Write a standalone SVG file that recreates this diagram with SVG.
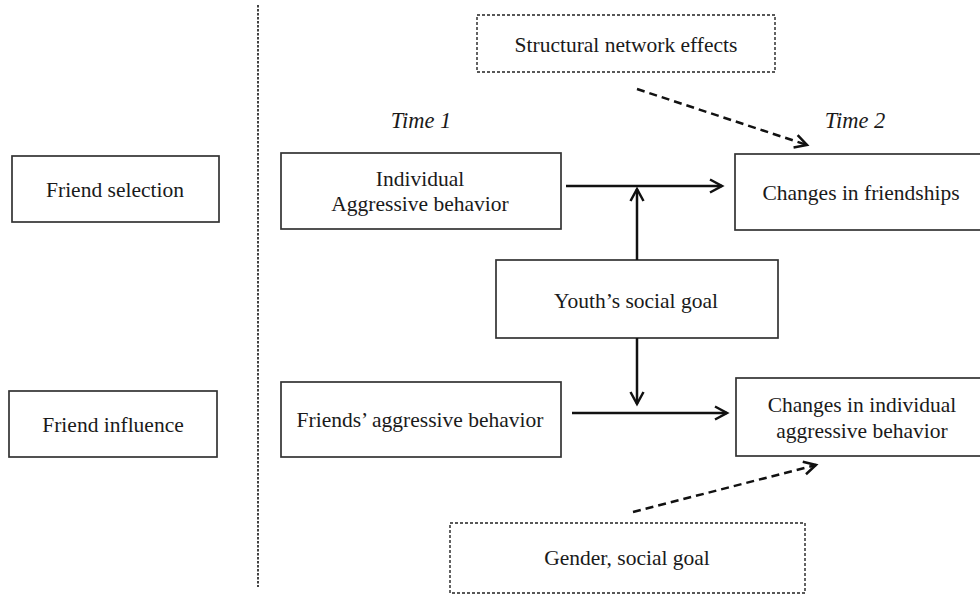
<svg xmlns="http://www.w3.org/2000/svg" width="980" height="595" viewBox="0 0 980 595">
  <defs>
    <marker id="chev" viewBox="-15 -9 18 18" refX="0" refY="0" markerWidth="18" markerHeight="18" markerUnits="userSpaceOnUse" orient="auto">
      <path d="M-12,-6.5 L0,0 L-12,6.5" fill="none" stroke="#111" stroke-width="2.5" stroke-linejoin="miter"/>
    </marker>
  </defs>
  <style>
    .box { fill: #fff; stroke: #333; stroke-width: 1.7; }
    .dbox { fill: #fff; stroke: #222; stroke-width: 1.4; stroke-dasharray: 3 2; }
    .t { font-family: "Liberation Serif", "Times New Roman", serif; font-size: 21.5px; fill: #1a1a1a; text-anchor: middle; }
    .ti { font-family: "Liberation Serif", "Times New Roman", serif; font-size: 22.5px; font-style: italic; fill: #1a1a1a; text-anchor: middle; }
    .arr { stroke: #111; stroke-width: 2.5; fill: none; marker-end: url(#chev); }
    .darr { stroke: #111; stroke-width: 2.5; fill: none; stroke-dasharray: 8 5; marker-end: url(#chev); }
  </style>
  <rect width="980" height="595" fill="#fff"/>

  <g id="divider">
    <line x1="258" y1="5" x2="258" y2="587" stroke="#222" stroke-width="1.7" stroke-dasharray="2.5 1.5"/>
  </g>

  <g id="friend-selection">
    <rect class="box" x="12" y="156" width="207" height="66"/>
    <text class="t" x="115" y="197">Friend selection</text>
  </g>
  <g id="friend-influence">
    <rect class="box" x="9" y="391" width="208" height="66"/>
    <text class="t" x="113" y="432">Friend influence</text>
  </g>

  <g id="structural">
    <rect class="dbox" x="477" y="15" width="298" height="57"/>
    <text class="t" x="626" y="52">Structural network effects</text>
  </g>

  <g id="time1"><text class="ti" x="421" y="128">Time 1</text></g>
  <g id="time2"><text class="ti" x="855" y="128">Time 2</text></g>

  <g id="individual">
    <rect class="box" x="281" y="153" width="280" height="76"/>
    <text class="t" x="420" y="186">Individual</text>
    <text class="t" x="420" y="211">Aggressive behavior</text>
  </g>
  <g id="changes-friendships">
    <rect class="box" x="735" y="154" width="250" height="76"/>
    <text class="t" x="861" y="200">Changes in friendships</text>
  </g>
  <g id="youth">
    <rect class="box" x="496" y="260" width="282" height="78"/>
    <text class="t" x="636" y="308">Youth’s social goal</text>
  </g>
  <g id="friends-aggr">
    <rect class="box" x="281" y="382" width="280" height="75"/>
    <text class="t" x="420" y="427">Friends’ aggressive behavior</text>
  </g>
  <g id="changes-aggr">
    <rect class="box" x="736" y="378" width="250" height="78"/>
    <text class="t" x="862" y="412">Changes in individual</text>
    <text class="t" x="862" y="438">aggressive behavior</text>
  </g>
  <g id="gender">
    <rect class="dbox" x="450" y="523" width="355" height="70"/>
    <text class="t" x="627" y="565">Gender, social goal</text>
  </g>

  <g id="connectors">
    <line class="arr" x1="566" y1="186" x2="722" y2="186"/>
    <line class="arr" x1="637" y1="260" x2="637" y2="189"/>
    <line class="arr" x1="637" y1="338" x2="637" y2="404"/>
    <line class="arr" x1="572" y1="413" x2="727" y2="413"/>
    <line class="darr" x1="637" y1="89" x2="807" y2="145"/>
    <line class="darr" x1="633" y1="512" x2="816" y2="465"/>
  </g>
</svg>
